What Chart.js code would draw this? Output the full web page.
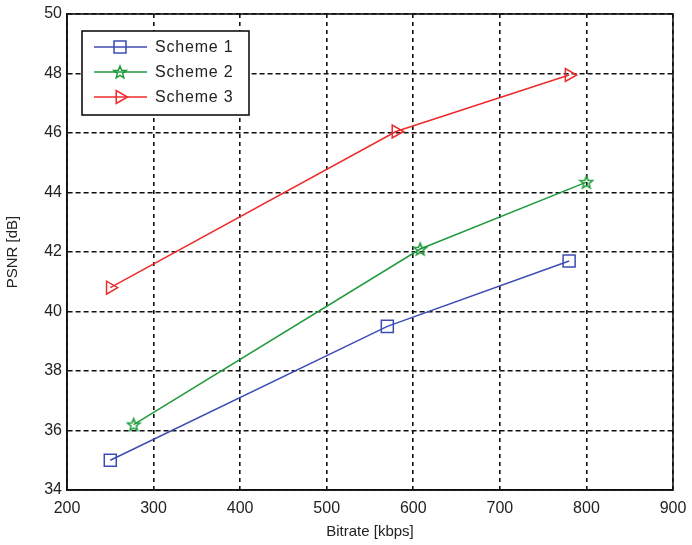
<!DOCTYPE html>
<html>
<head>
<meta charset="utf-8">
<script src="https://cdn.jsdelivr.net/npm/chart.js@4/dist/chart.umd.min.js"></script>
<style>
  html, body { margin: 0; padding: 0; background: #fff; }
  #wrap { width: 692px; height: 545px; }
</style>
</head>
<body>
<div id="wrap"><canvas id="chart" width="692" height="545"></canvas></div>
<script>
// data
const seriesNames = ['Scheme 1', 'Scheme 2', 'Scheme 3'];
const bitrate1 = [250, 570, 780];
const psnr1 = [35.0, 39.5, 41.7];
const bitrate2 = [277, 608, 800];
const psnr2 = [36.2, 42.1, 44.35];
const bitrate3 = [250, 580, 780];
const psnr3 = [40.8, 46.05, 47.95];
const xTicks = [200, 300, 400, 500, 600, 700, 800, 900];
const yTicks = [34, 36, 38, 40, 42, 44, 46, 48, 50];

const BLUE = '#3c4cb4';
const GREEN = '#1f9a3c';
const RED = '#ee2b2b';
const FONT = '"Liberation Sans", Arial, sans-serif';

// matlab pentagram marker
function makeStar(color) {
    const c = document.createElement('canvas');
    c.width = 16; c.height = 16;
    const g = c.getContext('2d');
    g.strokeStyle = color;
    g.lineWidth = 1.5;
    g.beginPath();
    for (let i = 0; i < 10; i++) {
        const r = i % 2 === 0 ? 6.5 : 2.8;
        const a = -Math.PI / 2 + i * Math.PI / 5;
        const px = 8 + r * Math.cos(a), py = 8.5 + r * Math.sin(a);
        if (i === 0) g.moveTo(px, py); else g.lineTo(px, py);
    }
    g.closePath();
    g.stroke();
    return c;
}
const starImg = makeStar(GREEN);

function toPoints(xs, ys) {
    return xs.map((x, i) => ({ x: x, y: ys[i] }));
}

// box round the plot plus legend, like matlab
const boxPlugin = {
    id: 'box',
    afterDraw(chart) {
        const ctx = chart.ctx;
        const a = chart.chartArea;
        ctx.save();
        ctx.strokeStyle = '#111';
        ctx.lineWidth = 1.6;
        ctx.strokeRect(a.left, a.top, a.right - a.left, a.bottom - a.top);

        // legend
        const lx = 82, ly = 31, lw = 167, lh = 84;
        ctx.fillStyle = '#fff';
        ctx.fillRect(lx, ly, lw, lh);
        ctx.strokeRect(lx, ly, lw, lh);
        const rows = [47, 72, 97];
        chart.data.datasets.forEach((ds, i) => {
            const y = rows[i];
            ctx.strokeStyle = ds.borderColor;
            ctx.lineWidth = 1.5;
            ctx.beginPath();
            ctx.moveTo(94, y);
            ctx.lineTo(147, y);
            ctx.stroke();
            ctx.fillStyle = 'rgba(0,0,0,0)';
            Chart.helpers.drawPoint(ctx, {
                pointStyle: ds.pointStyle,
                radius: ds.pointRadius,
                rotation: ds.pointRotation || 0,
                borderWidth: 1.5
            }, 120, y);
            ctx.fillStyle = '#222';
            ctx.font = '16px ' + FONT;
            ctx.textBaseline = 'middle';
            ctx.letterSpacing = '0.8px';
            ctx.fillText(ds.label, 155, y + 1);
            ctx.letterSpacing = '0px';
        });
        ctx.restore();
    }
};

const ctx = document.getElementById('chart').getContext('2d');
const chart = new Chart(ctx, {
    type: 'line',
    data: {
        datasets: [
            {
                label: seriesNames[0],
                data: toPoints(bitrate1, psnr1),
                borderColor: BLUE,
                backgroundColor: 'rgba(0,0,0,0)',
                borderWidth: 1.5,
                pointStyle: 'rect',
                pointRadius: 8.5,
                pointBorderWidth: 1.5,
                pointBorderColor: BLUE,
                pointBackgroundColor: 'rgba(0,0,0,0)'
            },
            {
                label: seriesNames[1],
                data: toPoints(bitrate2, psnr2),
                borderColor: GREEN,
                backgroundColor: 'rgba(0,0,0,0)',
                borderWidth: 1.5,
                pointStyle: starImg,
                pointRadius: 8,
                pointBorderWidth: 1.5
            },
            {
                label: seriesNames[2],
                data: toPoints(bitrate3, psnr3),
                borderColor: RED,
                backgroundColor: 'rgba(0,0,0,0)',
                borderWidth: 1.5,
                pointStyle: 'triangle',
                pointRotation: 90,
                pointRadius: 7.5,
                pointBorderWidth: 1.5,
                pointBorderColor: RED,
                pointBackgroundColor: 'rgba(0,0,0,0)'
            }
        ]
    },
    options: {
        responsive: false,
        animation: false,
        layout: { padding: { top: 14, right: 19, left: 0, bottom: 0 } },
        plugins: {
            legend: { display: false },
            tooltip: { enabled: false }
        },
        scales: {
            x: {
                type: 'linear',
                min: xTicks[0],
                max: xTicks[xTicks.length - 1],
                afterBuildTicks: (axis) => { axis.ticks = xTicks.map(v => ({ value: v })); },
                afterFit: (axis) => {
                    axis.height = 55;
                    axis.paddingLeft = 0;
                    axis.paddingRight = 0;
                },
                grid: {
                    color: '#111',
                    lineWidth: 1.6,
                    drawTicks: false
                },
                border: { display: true, color: '#111', width: 1.6, dash: [4, 4] },
                ticks: {
                    color: '#222',
                    padding: 9,
                    font: { family: FONT, size: 16 },
                    maxRotation: 0
                },
                title: {
                    display: true,
                    text: 'Bitrate [kbps]',
                    color: '#222',
                    font: { family: FONT, size: 15 },
                    padding: { top: 2 }
                }
            },
            y: {
                min: yTicks[0],
                max: yTicks[yTicks.length - 1],
                afterBuildTicks: (axis) => { axis.ticks = yTicks.map(v => ({ value: v })); },
                afterFit: (axis) => {
                    axis.width = 67;
                    axis.paddingTop = 0;
                    axis.paddingBottom = 0;
                },
                grid: {
                    color: '#111',
                    lineWidth: 1.6,
                    drawTicks: false
                },
                border: { display: true, color: '#111', width: 1.6, dash: [5, 3] },
                ticks: {
                    color: '#222',
                    padding: 5,
                    font: { family: FONT, size: 16 }
                },
                title: {
                    display: true,
                    text: 'PSNR [dB]',
                    color: '#222',
                    font: { family: FONT, size: 15 },
                    padding: { bottom: 6 }
                }
            }
        }
    },
    plugins: [boxPlugin]
});
</script>
</body>
</html>
